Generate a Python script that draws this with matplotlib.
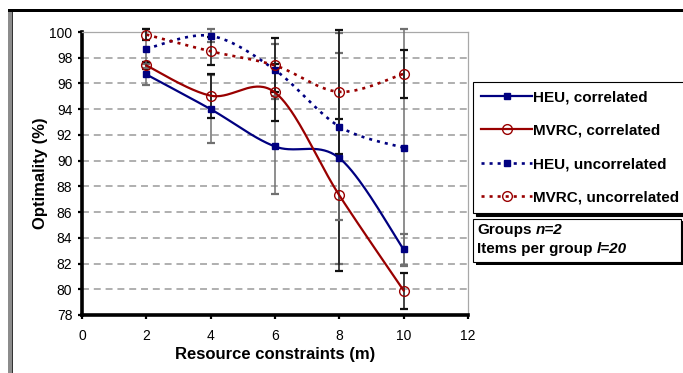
import numpy as np
import matplotlib
matplotlib.use("Agg")
import matplotlib.pyplot as plt
from matplotlib.patches import Rectangle
from matplotlib.text import Annotation

plt.rcParams['font.family'] = ['Liberation Sans', 'DejaVu Sans']
plt.rcParams['lines.scale_dashes'] = False

# ---- data -------------------------------------------------------------
m = [2, 4, 6, 8, 10]
heu_corr = [96.7, 94.0, 91.1, 90.2, 83.1]
mvrc_corr = [97.4, 95.05, 95.3, 87.3, 79.9]
heu_unc = [98.7, 99.7, 97.05, 92.65, 91.0]
mvrc_unc = [99.8, 98.5, 97.4, 95.35, 96.75]

heu_corr_err = [0.8, 2.65, 3.7, 8.2, 1.2]
mvrc_corr_err = [0.3, 1.7, 2.2, 5.9, 1.4]
heu_unc_err = [1.5, 0.5, 2.0, 7.3, 9.2]
mvrc_unc_err = [0.4, 1.1, 2.1, 4.8, 1.85]

series_labels = ["HEU, correlated", "MVRC, correlated",
                 "HEU, uncorrelated", "MVRC, uncorrelated"]
x_ticks = [0, 2, 4, 6, 8, 10, 12]
y_ticks = [78, 80, 82, 84, 86, 88, 90, 92, 94, 96, 98, 100]

BLUE = "#000080"
RED = "#990000"

W, H = 683, 373


def smooth(xs, ys, n=40):
    """Bezier smoothing through the points (Catmull-Rom control points)."""
    p = np.column_stack([xs, ys]).astype(float)
    out = [p[0]]
    t = np.linspace(0, 1, n)[1:, None]
    for i in range(len(p) - 1):
        p0 = p[i - 1] if i > 0 else p[i]
        p1, p2 = p[i], p[i + 1]
        p3 = p[i + 2] if i + 2 < len(p) else p[i + 1]
        c1 = p1 + (p2 - p0) / 6.0
        c2 = p2 - (p3 - p1) / 6.0
        seg = ((1 - t) ** 3) * p1 + 3 * ((1 - t) ** 2) * t * c1 \
            + 3 * (1 - t) * t ** 2 * c2 + t ** 3 * p2
        out.extend(seg)
    return np.array(out), n - 1


def fx(px):
    return px / W


def fy(py):
    return 1 - py / H


fig = plt.figure(figsize=(W / 100, H / 100), dpi=100)
fig.patch.set_facecolor("white")

ax = fig.add_axes([fx(82), fy(315), fx(468) - fx(82), fy(32) - fy(315)])
ax.set_xlim(0, 12)
ax.set_ylim(78, 100)

# grid lines
for yv in y_ticks[1:-1]:
    ax.axhline(yv, color="#9a9a9a", lw=1.1, dashes=(5, 3.5), zorder=1)

# series
styles = [
    (heu_corr, heu_corr_err, BLUE, "s", "solid", "#707070"),
    (mvrc_corr, mvrc_corr_err, RED, "o", "solid", "#111111"),
    (heu_unc, heu_unc_err, BLUE, "s", "dotted", "#707070"),
    (mvrc_unc, mvrc_unc_err, RED, "o", "dotted", "#111111"),
]
handles = []
for (vals, errs, col, mk, ls, ecol), lab in zip(styles, series_labels):
    ax.errorbar(m, vals, yerr=errs, fmt="none", ecolor=ecol, elinewidth=1.1,
                capsize=3.0, capthick=1.6, zorder=3, clip_on=False)
    curve, step = smooth(m, vals)
    kw = dict(color=col, lw=1.6, marker=mk, markevery=list(range(0, len(curve), step)),
              zorder=4, clip_on=False, label=lab)
    if mk == "s":
        kw.update(markersize=5, markerfacecolor=col, markeredgecolor=col)
    else:
        kw.update(markersize=7, markerfacecolor="none", markeredgecolor=col,
                  markeredgewidth=1.0)
    line, = ax.plot(curve[:, 0], curve[:, 1], **kw)
    if ls == "dotted":
        line.set_linewidth(1.9)
        line.set_dashes((2.2, 3.6))
    handles.append(line)

# axes styling
ax.set_xticks(x_ticks)
ax.set_yticks(y_ticks)
ax.tick_params(axis="both", direction="out", length=3, width=1.6,
               labelsize=10, colors="black")
ax.tick_params(axis="y", pad=4)
ax.tick_params(axis="x", pad=7)
for side in ("left", "bottom"):
    ax.spines[side].set_linewidth(2.6)
    ax.spines[side].set_color("black")
for side in ("top", "right"):
    ax.spines[side].set_linewidth(0.9)
    ax.spines[side].set_color("#a8a8a8")

ax.set_xlabel("Resource constraints (m)", fontsize=12, fontweight="bold", labelpad=3)
ax.set_ylabel("Optimality (%)", fontsize=12, fontweight="bold", labelpad=1)

# legend
leg = ax.legend(handles=handles, loc="upper left",
                bbox_to_anchor=(fx(473), fy(82)), bbox_transform=fig.transFigure,
                borderaxespad=0, frameon=True, fancybox=False,
                shadow={"color": "black", "alpha": 1.0},
                prop={"size": 11, "weight": "bold"},
                handlelength=3.3, handletextpad=0.1, labelspacing=1.27,
                borderpad=0.55, numpoints=1)
leg.get_frame().set_edgecolor("black")
leg.get_frame().set_linewidth(0.8)
leg.get_frame().set_facecolor("white")

# parameter box with shadow
bx0, by0, bx1, by1 = 473, 219, 681, 262
fig.add_artist(Rectangle((fx(bx0) + 2.5 / W, fy(by1) - 2.5 / H),
                         fx(bx1) - fx(bx0), fy(by0) - fy(by1),
                         transform=fig.transFigure, facecolor="black",
                         edgecolor="black", lw=0, zorder=5))
fig.add_artist(Rectangle((fx(bx0), fy(by1)), fx(bx1) - fx(bx0), fy(by0) - fy(by1),
                         transform=fig.transFigure, facecolor="white",
                         edgecolor="black", lw=0.8, zorder=6))

box_lines = [("Groups", "n=2", 230), ("Items per group", "l=20", 249)]
for plain, ital, ypx in box_lines:
    t = fig.text(fx(477), fy(ypx), plain, fontsize=11, fontweight="bold",
                 va="center", ha="left", zorder=7)
    a = Annotation(ital, xy=(1, 0), xycoords=t, xytext=(3, 0),
                   textcoords="offset points", va="bottom", ha="left",
                   fontsize=11, fontweight="bold", fontstyle="italic")
    a.set_zorder(7)
    fig.add_artist(a)

# chart-area border
fig.add_artist(Rectangle((fx(8), fy(373)), fx(12) - fx(8), fy(9) - fy(373),
                         transform=fig.transFigure, facecolor="#8c8c8c",
                         edgecolor="none", zorder=8))
fig.add_artist(Rectangle((fx(8), fy(12)), 1 - fx(8), fy(9) - fy(12),
                         transform=fig.transFigure, facecolor="black",
                         edgecolor="none", zorder=9))
fig.add_artist(Rectangle((fx(12), fy(373)), fx(13) - fx(12), fy(12) - fy(373),
                         transform=fig.transFigure, facecolor="#333333",
                         edgecolor="none", zorder=9))

fig.savefig("out.png", dpi=100, facecolor="white")
